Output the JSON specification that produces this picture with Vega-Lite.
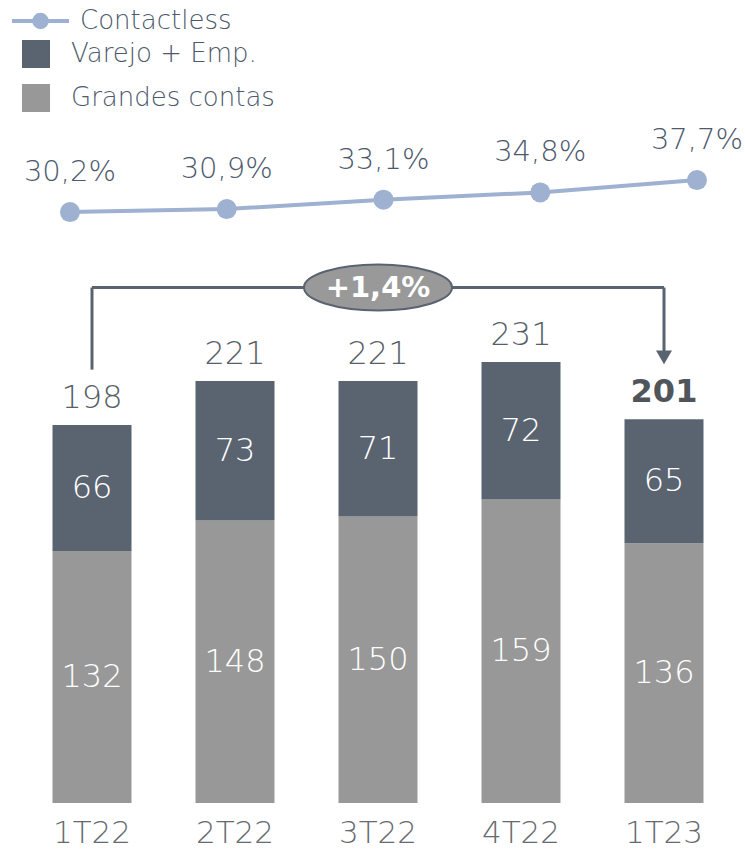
{
  "$schema": "https://vega.github.io/schema/vega-lite/v6.json",
  "width": 745,
  "height": 803,
  "autosize": {"type": "none"},
  "padding": {"top": 0, "left": 0, "right": 0, "bottom": 48},
  "background": "white",
  "config": {"view": {"stroke": null}, "font": "DejaVu Sans"},
  "datasets": {
    "bars": [
      {"q": "1T22", "series": "Grandes contas", "value": 132},
      {"q": "1T22", "series": "Varejo + Emp.", "value": 66},
      {"q": "2T22", "series": "Grandes contas", "value": 148},
      {"q": "2T22", "series": "Varejo + Emp.", "value": 73},
      {"q": "3T22", "series": "Grandes contas", "value": 150},
      {"q": "3T22", "series": "Varejo + Emp.", "value": 71},
      {"q": "4T22", "series": "Grandes contas", "value": 159},
      {"q": "4T22", "series": "Varejo + Emp.", "value": 72},
      {"q": "1T23", "series": "Grandes contas", "value": 136},
      {"q": "1T23", "series": "Varejo + Emp.", "value": 65}
    ],
    "contactless": [
      {"q": "1T22", "series": "Contactless", "pct": 30.2},
      {"q": "2T22", "series": "Contactless", "pct": 30.9},
      {"q": "3T22", "series": "Contactless", "pct": 33.1},
      {"q": "4T22", "series": "Contactless", "pct": 34.8},
      {"q": "1T23", "series": "Contactless", "pct": 37.7}
    ]
  },
  "layer": [
    {
      "data": {"name": "bars"},
      "encoding": {
        "x": {
          "field": "q",
          "type": "nominal",
          "scale": {"domain": ["1T22", "2T22", "3T22", "4T22", "1T23"], "paddingInner": 0.4476, "paddingOuter": 0.3287, "align": 0.5585},
          "axis": {"title": null, "domain": false, "ticks": false, "tickSize": 0, "grid": false, "labelAngle": 0, "labelPadding": 30, "labelBaseline": "middle", "labelFontSize": 31, "labelFont": "DejaVu Sans", "labelFontWeight": 200, "labelColor": "#666a70"}
        }
      },
      "layer": [
        {
          "mark": {"type": "bar"},
          "encoding": {
            "y": {"field": "value", "type": "quantitative", "stack": "zero", "scale": {"domain": [0, 420.6], "nice": false, "zero": true}, "axis": null},
            "color": {
              "field": "series",
              "type": "nominal",
              "scale": {"domain": ["Varejo + Emp.", "Grandes contas"], "range": ["#5a6470", "#989898"]},
              "legend": {"orient": "none", "legendX": 22, "legendY": 40, "title": null, "padding": 0, "symbolType": "square", "symbolSize": 784, "symbolStrokeWidth": 0, "labelFontSize": 26, "labelFont": "DejaVu Sans", "labelFontWeight": 200, "labelColor": "#4d5a6c", "labelOffset": 21, "labelLimit": 400, "rowPadding": 16}
            },
            "order": {"field": "series", "sort": "ascending"}
          }
        },
        {
          "transform": [
            {"stack": "value", "groupby": ["q"], "sort": [{"field": "series", "order": "ascending"}], "as": ["v0", "v1"]},
            {"calculate": "(datum.v0 + datum.v1) / 2", "as": "mid"}
          ],
          "mark": {"type": "text", "fontSize": 32, "fontWeight": 200, "color": "white", "baseline": "middle"},
          "encoding": {
            "y": {"field": "mid", "type": "quantitative"},
            "text": {"field": "value", "type": "quantitative"}
          }
        },
        {
          "transform": [
            {"aggregate": [{"op": "sum", "field": "value", "as": "total"}], "groupby": ["q"]},
            {"filter": "datum.q != '1T23'"}
          ],
          "mark": {"type": "text", "fontSize": 32, "fontWeight": 200, "color": "#565e68", "baseline": "middle", "dy": -27},
          "encoding": {
            "y": {"field": "total", "type": "quantitative"},
            "text": {"field": "total", "type": "quantitative"}
          }
        },
        {
          "transform": [
            {"aggregate": [{"op": "sum", "field": "value", "as": "total"}], "groupby": ["q"]},
            {"filter": "datum.q == '1T23'"}
          ],
          "mark": {"type": "text", "fontSize": 32, "fontWeight": "bold", "color": "#50555c", "baseline": "middle", "dy": -27},
          "encoding": {
            "y": {"field": "total", "type": "quantitative"},
            "text": {"field": "total", "type": "quantitative"}
          }
        },
        {
          "data": {"values": [{}]},
          "mark": {"type": "rule", "color": "#5a6470", "strokeWidth": 3},
          "encoding": {
            "x": {"datum": "1T22", "type": "nominal", "bandPosition": 0.5},
            "x2": {"datum": "1T23", "bandPosition": 0.5},
            "y": {"datum": 270, "type": "quantitative"}
          }
        },
        {
          "data": {"values": [{}]},
          "mark": {"type": "rule", "color": "#5a6470", "strokeWidth": 3},
          "encoding": {
            "x": {"datum": "1T22", "type": "nominal", "bandPosition": 0.5},
            "y": {"datum": 227, "type": "quantitative"},
            "y2": {"datum": 270}
          }
        },
        {
          "data": {"values": [{}]},
          "mark": {"type": "rule", "color": "#5a6470", "strokeWidth": 3},
          "encoding": {
            "x": {"datum": "1T23", "type": "nominal", "bandPosition": 0.5},
            "y": {"datum": 236, "type": "quantitative"},
            "y2": {"datum": 270}
          }
        },
        {
          "data": {"values": [{}]},
          "mark": {"type": "point", "shape": "triangle-down", "size": 256, "filled": true, "color": "#5a6470", "opacity": 1},
          "encoding": {
            "x": {"datum": "1T23", "type": "nominal", "bandPosition": 0.5},
            "y": {"datum": 233.4, "type": "quantitative"}
          }
        },
        {
          "data": {"values": [{}]},
          "mark": {"type": "point", "shape": "M-1,0A1,0.31 0 1,0 1,0A1,0.31 0 1,0 -1,0Z", "size": 21904, "filled": true, "fill": "#999999", "stroke": "#5a6470", "strokeWidth": 2, "opacity": 1, "fillOpacity": 1},
          "encoding": {
            "x": {"datum": "3T22", "type": "nominal", "bandPosition": 0.5},
            "y": {"datum": 270, "type": "quantitative"}
          }
        },
        {
          "data": {"values": [{}]},
          "mark": {"type": "text", "text": "+1,4%", "fontSize": 29, "fontWeight": "bold", "color": "white", "baseline": "middle", "align": "center"},
          "encoding": {
            "x": {"datum": "3T22", "type": "nominal", "bandPosition": 0.5},
            "y": {"datum": 270, "type": "quantitative"}
          }
        }
      ]
    },
    {
      "data": {"name": "contactless"},
      "transform": [
        {"calculate": "replace(format(datum.pct, '.1f'), '.', ',') + '%'", "as": "label"}
      ],
      "encoding": {
        "x": {
          "field": "q",
          "type": "nominal",
          "scale": {"type": "point", "domain": ["1T22", "2T22", "3T22", "4T22", "1T23"], "padding": 0.3764, "align": 0.593},
          "axis": null
        },
        "y": {"field": "pct", "type": "quantitative", "scale": {"domain": [-108.3, 79.9], "nice": false, "zero": false}, "axis": null}
      },
      "layer": [
        {
          "mark": {"type": "line", "strokeWidth": 4},
          "encoding": {
            "color": {
              "field": "series",
              "type": "nominal",
              "scale": {"domain": ["Contactless"], "range": ["#9eb1d0"]},
              "legend": {
                "orient": "none", "legendX": 10, "legendY": -9.5, "title": null, "padding": 0,
                "symbolType": "M-1,0L1,0M-0.22,0A0.22,0.22 0 1,0 0.22,0A0.22,0.22 0 1,0 -0.22,0Z",
                "symbolSize": 3249, "symbolStrokeWidth": 4, "symbolFillColor": "#9eb1d0", "symbolStrokeColor": "#9eb1d0",
                "labelFontSize": 26, "labelFont": "DejaVu Sans", "labelFontWeight": 200, "labelColor": "#4d5a6c", "labelOffset": 9, "labelLimit": 400,
                "encode": {"symbols": {"update": {"fill": {"value": "#9eb1d0"}, "stroke": {"value": "#9eb1d0"}, "strokeWidth": {"value": 4}}}}
              }
            }
          }
        },
        {
          "mark": {"type": "point", "filled": true, "size": 400, "color": "#9eb1d0", "opacity": 1}
        },
        {
          "mark": {"type": "text", "fontSize": 29, "fontWeight": 200, "color": "#4d5a6c", "baseline": "middle", "dy": -40},
          "encoding": {"text": {"field": "label", "type": "nominal"}}
        }
      ]
    }
  ],
  "resolve": {"scale": {"x": "independent", "y": "independent", "color": "independent"}, "legend": {"color": "independent"}}
}
